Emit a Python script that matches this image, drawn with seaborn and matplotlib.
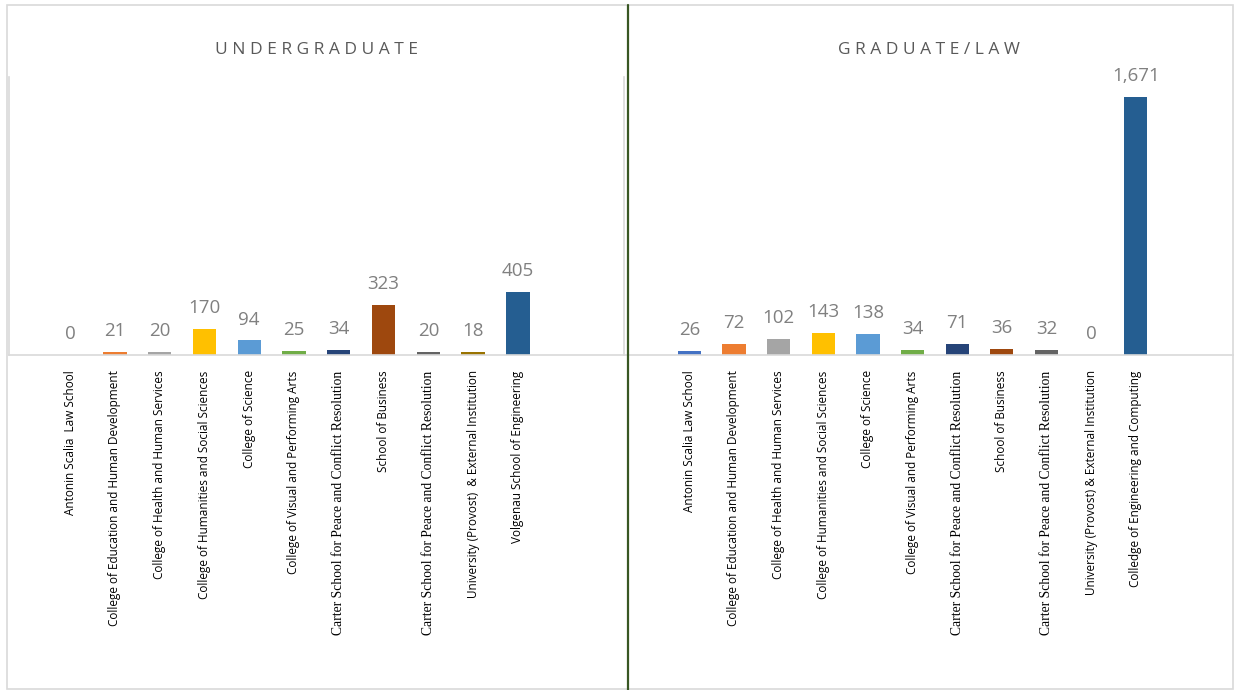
import matplotlib
matplotlib.use("Agg")
import pandas as pd
import seaborn as sns
import matplotlib.pyplot as plt
from matplotlib.lines import Line2D
from matplotlib.patches import Rectangle

# Data
under_labels = [
    "Antonin Scalia  Law School",
    "College of Education and Human Development",
    "College of Health and Human Services",
    "College of Humanities and Social Sciences",
    "College of Science",
    "College of Visual and Performing Arts",
    "Carter School for Peace and Conflict Resolution",
    "School of Business",
    "Carter School for Peace and Conflict Resolution",
    "University (Provost)  & External Institution",
    "Volgenau School of Engineering",
]
under_values = [0, 21, 20, 170, 94, 25, 34, 323, 20, 18, 405]

grad_labels = [
    "Antonin Scalia Law School",
    "College of Education and Human Development",
    "College of Health and Human Services",
    "College of Humanities and Social Sciences",
    "College of Science",
    "College of Visual and Performing Arts",
    "Carter School for Peace and Conflict Resolution",
    "School of Business",
    "Carter School for Peace and Conflict Resolution",
    "University (Provost) & External Institution",
    "Colledge of Engineering and Computing",
]
grad_values = [26, 72, 102, 143, 138, 34, 71, 36, 32, 0, 1671]

bar_colors = ["#4472C4", "#ED7D31", "#A5A5A5", "#FFC000", "#5B9BD5", "#70AD47",
              "#264478", "#9E480E", "#636363", "#997300", "#255E91"]

sns.set_theme(style="white")
plt.rcParams["font.family"] = ["Open Sans", "DejaVu Sans"]

W, H = 1234, 690
fig = plt.figure(figsize=(W / 100, H / 100), dpi=100)
fig.patch.set_facecolor("white")


def add_axes_px(x0, x1, ytop, ybot):
    return fig.add_axes([x0 / W, 1 - ybot / H, (x1 - x0) / W, (ybot - ytop) / H])


def draw_panel(ax, labels, values, title, xlim):
    df = pd.DataFrame({"slot": [str(i) for i in range(len(values))], "value": values})
    sns.barplot(data=df, x="slot", y="value", hue="slot", palette=bar_colors,
                legend=False, saturation=1, width=0.52, linewidth=0, ax=ax)
    ax.set_ylim(0, 1800)
    ax.set_xlim(*xlim)
    ax.set_yticks([])
    ax.set_xlabel("")
    ax.set_ylabel("")
    ax.set_xticks(range(len(labels)))
    ax.set_xticklabels(labels, rotation=90, fontsize=8.5, color="black")
    ax.tick_params(axis="x", length=0, pad=11)
    for i, v in enumerate(values):
        ax.annotate(f"{v:,}", (i, v), xytext=(0, 11.5), textcoords="offset points",
                    ha="center", va="baseline", fontsize=13.5, color="#808080")
    for s in ["top", "right"]:
        ax.spines[s].set_visible(False)
    for s in ["left", "bottom"]:
        ax.spines[s].set_color("#d9d9d9")
        ax.spines[s].set_linewidth(1.2)
    ax.set_facecolor("white")
    pos = ax.get_position()
    fig.text(pos.x0 + pos.width / 2, 1 - 54 / H, " ".join(title), ha="center",
             va="baseline", fontsize=12.5, color="#595959")


ax1 = add_axes_px(9, 624, 77, 355)
draw_panel(ax1, under_labels, under_values, "UNDERGRADUATE", (-1.365, 12.37))

ax2 = add_axes_px(624, 1234, 77, 355)
draw_panel(ax2, grad_labels, grad_values, "GRADUATE/LAW", (-1.464, 12.2))

# outer frame and green divider
fig.add_artist(Rectangle((7 / W, 1 / H), 1226 / W, 684 / H, transform=fig.transFigure,
                         fill=False, edgecolor="#d9d9d9", linewidth=1.2))
fig.add_artist(Line2D([628 / W, 628 / W], [0, 1 - 5 / H], transform=fig.transFigure,
                      color="#385723", linewidth=1.6))

# the Carter labels are set in a serif face in the original
fig.canvas.draw()
for ax in (ax1, ax2):
    for tick in ax.xaxis.get_major_ticks():
        if tick.label1.get_text().startswith("Carter"):
            tick.label1.set_fontfamily("Liberation Serif")
            tick.label1.set_fontsize(9.8)

fig.savefig("out.png", dpi=100, facecolor="white")
